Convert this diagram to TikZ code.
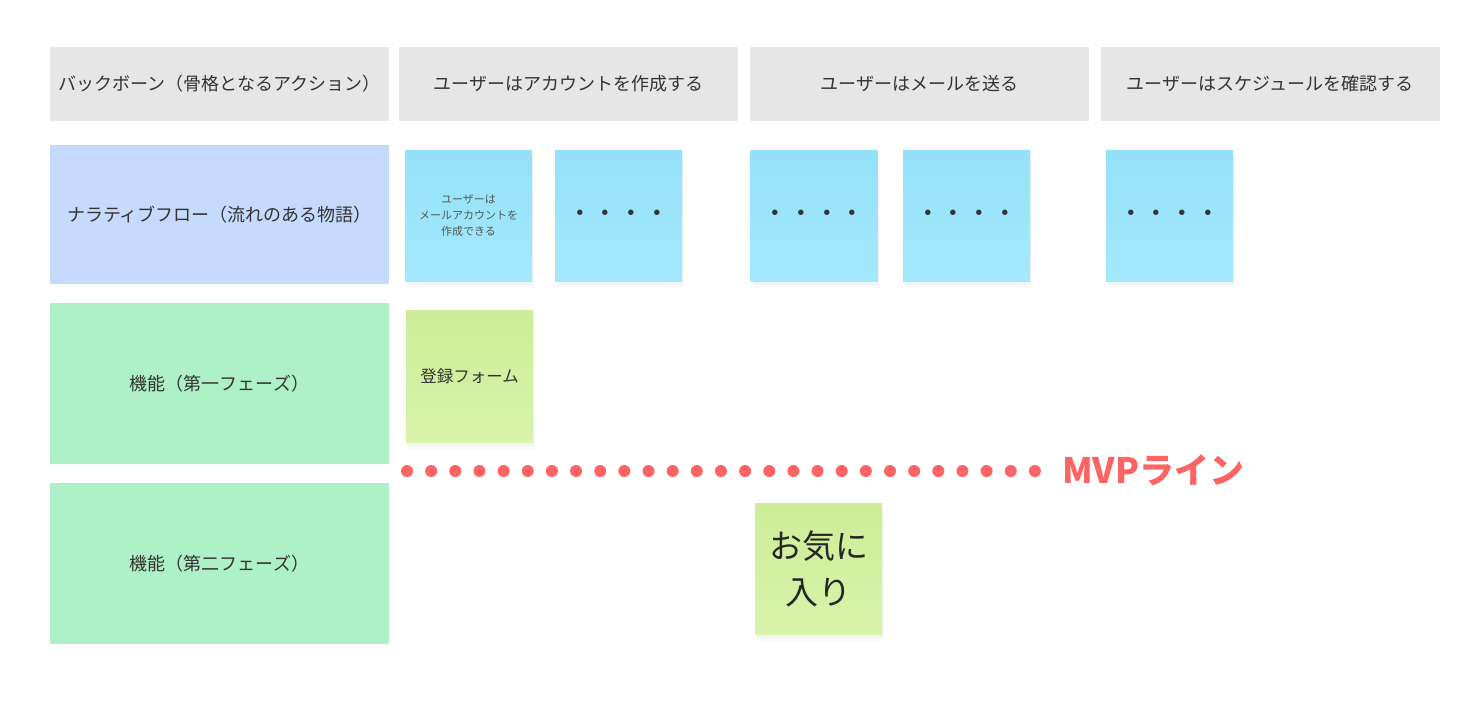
\documentclass[tikz,border=0pt]{standalone}
\usepackage{fontspec}
\setmainfont{Noto Sans CJK JP}
\usetikzlibrary{shadows}
\definecolor{headgray}{HTML}{E6E6E6}
\definecolor{narrblue}{HTML}{C5DAFC}
\definecolor{featgreen}{HTML}{AEF0C7}
\definecolor{notetop}{HTML}{94E1F9}
\definecolor{notebot}{HTML}{A3E9FD}
\definecolor{formtop}{HTML}{CEED98}
\definecolor{formbot}{HTML}{D8F3AA}
\definecolor{mvpred}{HTML}{FF6464}
\definecolor{inkgray}{HTML}{333333}
\definecolor{softgray}{HTML}{555555}
\tikzset{
  lanebox/.style={rectangle, inner sep=0pt, minimum width=339pt, minimum height=#1,
    text=inkgray, font=\fontsize{18}{20}\selectfont},
  sticky/.style={rectangle, inner sep=0pt, minimum width=127pt, minimum height=131pt,
    align=center, text=inkgray,
    drop shadow={shadow xshift=2pt, shadow yshift=-7pt, opacity=0.04},
    drop shadow={shadow xshift=1pt, shadow yshift=-4pt, opacity=0.06}},
  bluenote/.style={sticky, top color=notetop, bottom color=notebot},
  greennote/.style={sticky, top color=formtop, bottom color=formbot},
  dotsfont/.style={font=\fontsize{25.6}{26}\selectfont, text height=14pt, text depth=0pt}
}

\begin{document}
\begin{tikzpicture}[x=1pt, y=-1pt]
  \useasboundingbox (0,0) rectangle (1480,706);
  % header row
  \node[lanebox=74pt, fill=headgray] (bone) at (219.5,84) {バックボーン（骨格となるアクション）};
  \node[lanebox=74pt, fill=headgray] (acct) at (568.5,84) {ユーザーはアカウントを作成する};
  \node[lanebox=74pt, fill=headgray] (mail) at (919.5,84) {ユーザーはメールを送る};
  \node[lanebox=74pt, fill=headgray] (sched) at (1270,84) {ユーザーはスケジュールを確認する};
  % left lanes
  \node[lanebox=139pt, fill=narrblue] (narr) at (219.5,214.5) {ナラティブフロー（流れのある物語）};
  \node[lanebox=161pt, fill=featgreen] (phaseone) at (219.5,383.5) {機能（第一フェーズ）};
  \node[lanebox=161pt, fill=featgreen] (phasetwo) at (219.5,563.5) {機能（第二フェーズ）};
  % narrative notes
  \node[bluenote, text=softgray, font=\fontsize{11}{16}\selectfont] (s1) at (468.5,215.5) {ユーザーは\\メールアカウントを\\作成できる};
  \node[bluenote, dotsfont] (s2) at (618.5,215.5) {・・・・};
  \node[bluenote, dotsfont] (s3) at (814,215.5) {・・・・};
  \node[bluenote, dotsfont] (s4) at (966.5,215.5) {・・・・};
  \node[bluenote, dotsfont] (s5) at (1169.5,215.5) {・・・・};
  % feature notes
  \node[greennote, minimum height=132pt, font=\fontsize{16.5}{20}\selectfont] (form) at (469.5,376) {登録フォーム};
  \node[greennote, text=black!85, font=\fontsize{33}{46}\selectfont] (fav) at (818.5,568.5) {お気に\\入り};
  % MVP line
  \foreach \i in {0,...,26}
    \fill[mvpred] (407+24.15*\i,471) circle (6pt);
  \node[anchor=west, inner sep=0pt, text=mvpred, font=\fontsize{35}{40}\selectfont\bfseries] (mvp) at (1062,470) {MVPライン};
\end{tikzpicture}
\end{document}
